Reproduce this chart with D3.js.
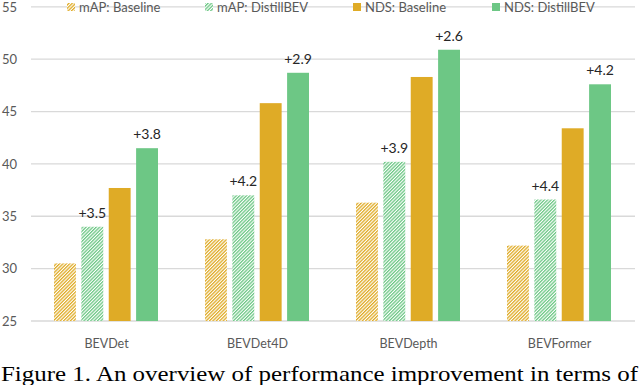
<!DOCTYPE html>
<html><head><meta charset="utf-8">
<script src="https://cdn.jsdelivr.net/npm/d3@7"></script>
<style>body{margin:0;background:#fff}svg{display:block}</style>
</head><body>
<svg id="c" width="640" height="385"></svg>
<script>
const categories = ["BEVDet","BEVDet4D","BEVDepth","BEVFormer"];
const seriesNames = ["mAP: Baseline","mAP: DistillBEV","NDS: Baseline","NDS: DistillBEV"];
const mapBaseline = [30.5, 32.8, 36.3, 32.2];
const mapDistill  = [34.0, 37.0, 40.2, 36.6];
const ndsBaseline = [37.7, 45.8, 48.3, 43.4];
const ndsDistill  = [41.5, 48.7, 50.9, 47.6];
const mapGain = ["+3.5","+4.2","+3.9","+4.4"];
const ndsGain = ["+3.8","+2.9","+2.6","+4.2"];
const yTicks = [25,30,35,40,45,50,55];
const caption = "Figure 1. An overview of performance improvement in terms of";

const gold = "#dfab26", green = "#6dc785";
const svg = d3.select("#c");
const defs = svg.append("defs");
function hatch(id, color){
  const p = defs.append("pattern").attr("id", id).attr("patternUnits","userSpaceOnUse")
    .attr("width",2.4).attr("height",2.4).attr("patternTransform","rotate(-45)");
  p.append("rect").attr("width",2.4).attr("height",2.4).attr("fill","#fff");
  p.append("rect").attr("width",2.4).attr("height",1.3).attr("fill",color);
}
hatch("hGold", gold); hatch("hGreen", green);
const fills = ["url(#hGold)","url(#hGreen)",gold,green];

const x0 = d3.scaleBand().domain(categories).range([31,635]);
const x1 = d3.scaleBand().domain(d3.range(4)).range([23,127]).paddingInner(0.2);
const y = d3.scaleLinear().domain([25,55]).range([321,6.8]);

const font = "Lato, 'Open Sans', sans-serif";
// grid
svg.append("g").selectAll("line").data(yTicks).join("line")
  .attr("x1",31).attr("x2",635).attr("y1",d=>y(d)).attr("y2",d=>y(d))
  .attr("stroke","#d9d9d9").attr("stroke-width",1.3);
const yAxis = d3.axisLeft(y).tickValues(yTicks).tickSize(0).tickPadding(0);
const ya = svg.append("g").attr("transform","translate(17,0)").call(yAxis);
ya.select(".domain").remove();
ya.selectAll("text").attr("font-family",font).attr("font-size",13).attr("fill","#595959");
ya.selectAll(".tick").filter(d=>d===55).select("text").attr("dy","0.38em");

const series = [mapBaseline, mapDistill, ndsBaseline, ndsDistill];
const g = svg.append("g");
categories.forEach((c,ci)=>{
  series.forEach((s,si)=>{
    g.append("rect")
      .attr("x", x0(c)+x1(si)).attr("width", x1.bandwidth())
      .attr("y", y(s[ci])).attr("height", y(25)-y(s[ci]))
      .attr("fill", fills[si]);
  });
  [[1,mapGain],[3,ndsGain]].forEach(([si,lab])=>{
    g.append("text").attr("x", x0(c)+x1(si)+x1.bandwidth()/2)
      .attr("y", y(series[si][ci]) - 9).attr("text-anchor","middle")
      .attr("font-family",font).attr("font-size",14)
      .attr("fill","#262626").text(lab[ci]);
  });
});

// x labels
const xa = svg.append("g").attr("transform","translate(0,321)").call(d3.axisBottom(x0).tickSize(0).tickPadding(18));
xa.select(".domain").remove();
xa.selectAll("text").attr("font-family",font).attr("font-size",12.5).attr("fill","#595959");

// legend
const legX = [67, 205, 353, 492];
const leg = svg.append("g");
seriesNames.forEach((n,i)=>{
  leg.append("rect").attr("x",legX[i]).attr("y",3).attr("width",8).attr("height",8).attr("fill",fills[i]);
  leg.append("text").attr("x",legX[i]+12).attr("y",12).attr("font-family",font)
    .attr("font-size",13).attr("fill","#595959").text(n);
});

svg.append("text").attr("x",1).attr("y",381).attr("font-family","'Liberation Serif', 'Times New Roman', serif")
  .attr("font-size",22).attr("fill","#000").attr("textLength",637).attr("lengthAdjust","spacingAndGlyphs").text(caption);
</script>
</body></html>
